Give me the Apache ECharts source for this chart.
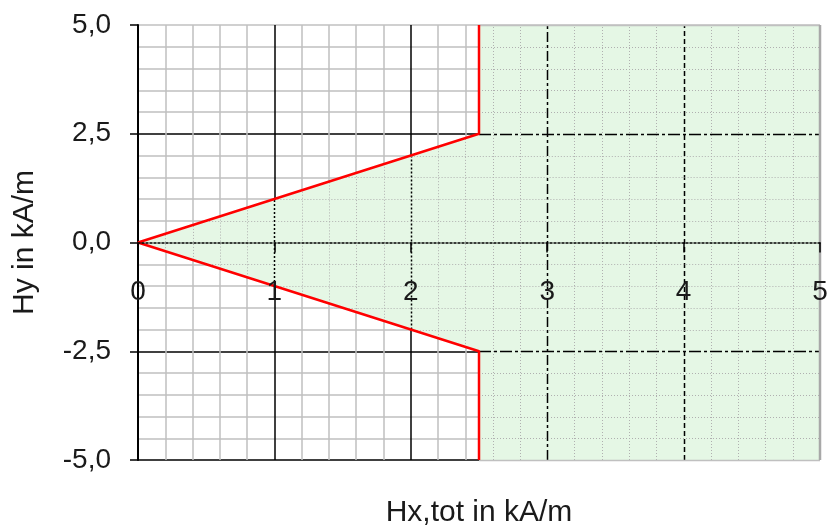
<!DOCTYPE html>
<html><head><meta charset="utf-8">
<script src="https://cdn.jsdelivr.net/npm/echarts@6/dist/echarts.min.js"></script>
<style>html,body{margin:0;padding:0;background:#fff}#c{width:829px;height:527px}</style>
</head><body><div id="c"></div>
<script>
// ---- data ----
const xTickValues = [0, 1, 2, 3, 4, 5];
const yTickLabels = ['-5,0', '-2,5', '0,0', '2,5', '5,0'];
const boundaryX = [2.5, 2.5, 0, 2.5, 2.5];
const boundaryY = [-5, -2.5, 0, 2.5, 5];
const xTitle = 'Hx,tot in kA/m';
const yTitle = 'Hy in kA/m';
const xMin = 0, xMax = 5, xStep = 1, xMinorSplit = 5;
const yMin = -5, yMax = 5, yStep = 2.5, yMinorSplit = 5;

const FONT = "'Liberation Sans', Arial, sans-serif";
const GRID = {left: 138, right: 9, top: 25, bottom: 67};
const H = 527;
const chart = echarts.init(document.getElementById('c'), null, {renderer: 'canvas'});

function yExtentAt(c) {
  let lo = Infinity, hi = -Infinity;
  for (let i = 0; i < boundaryX.length - 1; i++) {
    const x1 = boundaryX[i], y1 = boundaryY[i], x2 = boundaryX[i + 1], y2 = boundaryY[i + 1];
    const pts = [];
    if (x1 <= c + 1e-9) pts.push(y1);
    if (x2 <= c + 1e-9) pts.push(y2);
    if ((x1 - c) * (x2 - c) < 0) { const t = (c - x1) / (x2 - x1); pts.push(y1 + t * (y2 - y1)); }
    pts.forEach(y => { lo = Math.min(lo, y); hi = Math.max(hi, y); });
  }
  return lo <= hi ? [lo, hi] : null;
}
function xStartAt(y) {
  for (let i = 0; i < boundaryY.length - 1; i++) {
    const y1 = boundaryY[i], y2 = boundaryY[i + 1];
    if (y1 !== y2 && y >= Math.min(y1, y2) - 1e-9 && y <= Math.max(y1, y2) + 1e-9) {
      const t = (y - y1) / (y2 - y1);
      return boundaryX[i] + t * (boundaryX[i + 1] - boundaryX[i]);
    }
  }
  return xMax;
}
const crisp = v => Math.round(v) + 0.5;

function majorVStyle(v) {
  if (v < 2.5) return {stroke: '#000', lineWidth: 1.5, lineDash: [2, 2]};
  if (v === 3) return {stroke: '#000', lineWidth: 1.5, lineDash: [10, 3, 3, 3]};
  return {stroke: '#000', lineWidth: 1.5, lineDash: [5, 3]};
}

function renderOverlay(params, api) {
  const children = [];
  const poly = boundaryX.map((x, i) => api.coord([x, boundaryY[i]]));
  poly.push(api.coord([xMax, yMax]));
  poly.push(api.coord([xMax, yMin]));
  children.push({type: 'polygon', shape: {points: poly}, style: {fill: '#e5f7e5'}});

  const nx = Math.round((xMax - xMin) / xStep * xMinorSplit);
  for (let k = 1; k < nx; k++) {
    const v = xMin + k * xStep / xMinorSplit;
    const ext = yExtentAt(v);
    if (!ext) continue;
    const p1 = api.coord([v, ext[0]]), p2 = api.coord([v, ext[1]]);
    const isMajor = k % xMinorSplit === 0;
    children.push({type: 'line', shape: {x1: crisp(p1[0]), y1: p1[1], x2: crisp(p2[0]), y2: p2[1]},
      style: isMajor ? majorVStyle(v) : {stroke: '#b0b0b0', lineWidth: 1, lineDash: [1, 2]}});
  }
  const ny = Math.round((yMax - yMin) / yStep * yMinorSplit);
  for (let k = 0; k <= ny; k++) {
    const v = yMin + k * yStep / yMinorSplit;
    const xs = xStartAt(v);
    const p1 = api.coord([xs, v]), p2 = api.coord([xMax, v]);
    let style;
    if (k === 0 || k === ny) style = {stroke: '#c0c0c0', lineWidth: 1.5};
    else if (k % yMinorSplit === 0) {
      if (Math.abs(v) < 1e-9) continue;
      style = {stroke: '#000', lineWidth: 1.5, lineDash: [12, 3, 3, 3]};
    } else style = {stroke: '#b0b0b0', lineWidth: 1, lineDash: [1, 2]};
    children.push({type: 'line', shape: {x1: p1[0], y1: crisp(p1[1]), x2: p2[0], y2: crisp(p2[1])}, style});
  }
  const r1 = api.coord([xMax, yMin]), r2 = api.coord([xMax, yMax]);
  children.push({type: 'line', shape: {x1: r1[0], y1: r1[1], x2: r2[0], y2: r2[1]}, style: {stroke: '#a8a8a8', lineWidth: 2.5}});
  return {type: 'group', children};
}

const plotH = H - GRID.top - GRID.bottom;
const zeroOffset = -plotH * (0 - yMin) / (yMax - yMin);

const option = {
  animation: false,
  backgroundColor: '#fff',
  grid: Object.assign({containLabel: false, outerBoundsMode: 'none'}, GRID),
  xAxis: [{
    type: 'value', min: xMin, max: xMax, interval: xStep,
    name: xTitle, nameLocation: 'middle', nameGap: 38,
    nameTextStyle: {fontFamily: FONT, fontSize: 30, color: '#1a1a1a'},
    axisLine: {show: false, onZero: false}, axisTick: {show: false}, axisLabel: {show: false},
    splitLine: {show: true, lineStyle: {color: ['#000', '#000', '#000', '#000', '#000', '#b0b0b0'], width: 1.5}},
    minorTick: {show: false, splitNumber: xMinorSplit},
    minorSplitLine: {show: true, lineStyle: {color: '#c0c0c0', width: 1.5}}
  }, {
    type: 'value', min: xMin, max: xMax, interval: xStep, position: 'bottom', offset: zeroOffset, z: 10,
    axisLine: {show: true, onZero: false, lineStyle: {color: '#000', width: 1.5, type: [2, 2]}},
    axisTick: {show: true, length: 10, lineStyle: {color: '#000', width: 1.5}},
    axisLabel: {show: true, fontFamily: FONT, fontSize: 28, color: '#1a1a1a', margin: 36,
      formatter: (v) => String(xTickValues[xTickValues.indexOf(v)])},
    splitLine: {show: false}
  }],
  yAxis: {
    type: 'value', min: yMin, max: yMax, interval: yStep,
    name: yTitle, nameLocation: 'middle', nameGap: 98, nameRotate: 90,
    nameTextStyle: {fontFamily: FONT, fontSize: 30, color: '#1a1a1a'},
    axisLine: {show: true, onZero: false, lineStyle: {color: '#000', width: 2}},
    axisTick: {show: true, length: 8, lineStyle: {color: '#000', width: 1.5}},
    axisLabel: {fontFamily: FONT, fontSize: 28, color: '#1a1a1a', margin: 27,
      formatter: (v, i) => yTickLabels[i]},
    splitLine: {show: true, lineStyle: {color: ['#000', '#000', '#000', '#000', '#c0c0c0'], width: 1.5}},
    minorTick: {show: false, splitNumber: yMinorSplit},
    minorSplitLine: {show: true, lineStyle: {color: '#c0c0c0', width: 1.5}}
  },
  series: [{
    type: 'custom', xAxisIndex: 0, yAxisIndex: 0, z: 2, silent: true,
    renderItem: renderOverlay, data: [[0, 0]], clip: false
  }, {
    type: 'line', xAxisIndex: 0, z: 5, symbol: 'none', silent: true,
    data: boundaryX.map((x, i) => [x, boundaryY[i]]),
    lineStyle: {color: '#ff0000', width: 2.5}
  }]
};
chart.setOption(option);
</script></body></html>
